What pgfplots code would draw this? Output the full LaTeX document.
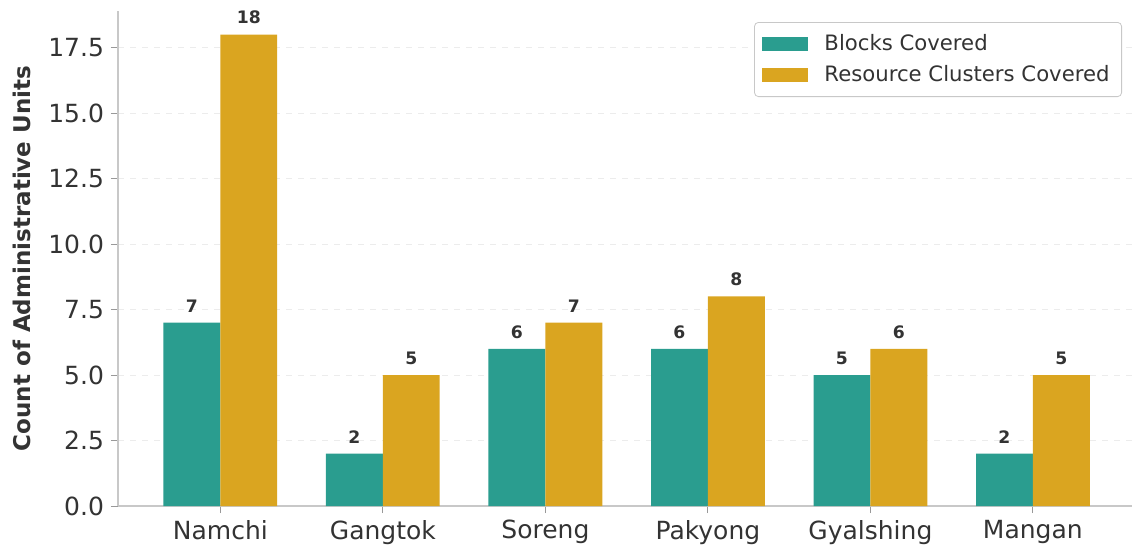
\documentclass[border=0pt]{standalone}
\usepackage{pgfplots}
\pgfplotsset{compat=1.18}
\usepackage{fontspec}
\setmainfont{DejaVu Sans}
\definecolor{teal1}{RGB}{42,157,143}
\definecolor{gold1}{RGB}{218,165,32}
\definecolor{spine}{RGB}{200,200,200}
\definecolor{txt}{RGB}{51,51,51}
\begin{document}
\begin{tikzpicture}
\path[use as bounding box] (-59pt,-21pt) rectangle (507pt,253pt);
\begin{axis}[
  at={(0,0)}, anchor=south west,
  scale only axis, width=507pt, height=247.5pt,
  xmin=-0.63, xmax=5.61, ymin=0, ymax=18.9,
  axis x line*=bottom, axis y line*=left,
  axis line style={spine, line width=0.6pt},
  xtick={0,1,2,3,4,5},
  xticklabels={Namchi,Gangtok,Soreng,Pakyong,Gyalshing,Mangan},
  ytick={0,2.5,5,7.5,10,12.5,15,17.5},
  yticklabel style={/pgf/number format/.cd,fixed,fixed zerofill,precision=1},
  /pgf/number format/assume math mode=true,
  tick style={color=txt!50, line width=0.5pt},
  tick align=outside, major tick length=3.5pt,
  ticklabel style={font=\fontsize{12.5}{14}\selectfont, text=txt},
  ymajorgrids, grid style={spine!35, dashed, line width=0.4pt},
  ylabel={Count of Administrative Units},
  ylabel style={at={(axis description cs:-0.0947,0.5)}, anchor=center, font=\fontsize{11.5}{13}\selectfont\bfseries, text=txt},
  ybar, bar width=0.35,
  legend style={at={(1,1)}, anchor=north east, xshift=-5pt, yshift=-5.5pt,
    draw=spine, rounded corners=2pt, font=\fontsize{10.6}{13}\selectfont, text=txt,
    row sep=2pt, inner sep=4pt},
  legend cell align=left,
  legend image code/.code={\fill[#1, sharp corners] (0pt,-3.5pt) rectangle (23pt,3.5pt); \path (29pt,0pt);},
  nodes near coords,
  every node near coord/.append style={font=\fontsize{8.6}{10}\selectfont\bfseries, text=txt, anchor=south, inner sep=0pt, yshift=5pt},
]
\addplot[fill=teal1, draw=none, bar shift=-0.175] coordinates {(0,7) (1,2) (2,6) (3,6) (4,5) (5,2)};
\addlegendentry{Blocks Covered}
\addplot[fill=gold1, draw=none, bar shift=0.175] coordinates {(0,18) (1,5) (2,7) (3,8) (4,6) (5,5)};
\addlegendentry{Resource Clusters Covered}
\end{axis}
\end{tikzpicture}
\end{document}
